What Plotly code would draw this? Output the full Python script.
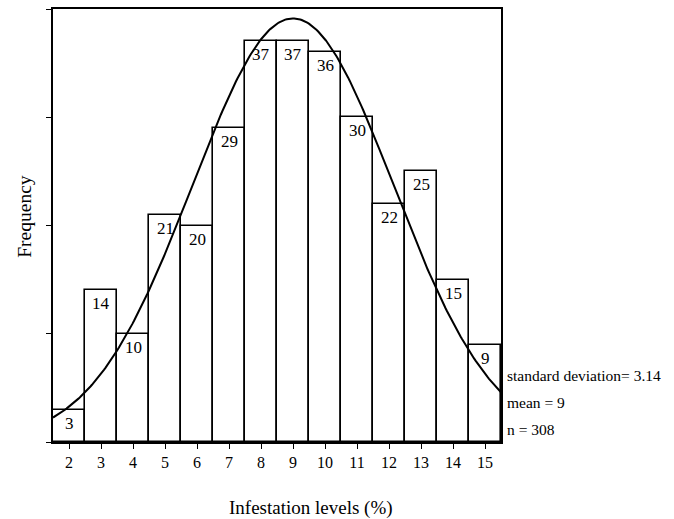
import numpy as np
import plotly.graph_objects as go

levels = [2, 3, 4, 5, 6, 7, 8, 9, 10, 11, 12, 13, 14, 15]
freq = [3, 14, 10, 21, 20, 29, 37, 37, 36, 30, 22, 25, 15, 9]
mean_val = 9
sd_val = 3.14
n_val = 308
stats_lines = ["standard deviation= 3.14", "mean = 9", "n = 308"]

FONT = "Liberation Serif, Times New Roman, serif"

# fitted normal curve from the stated mean / sd / n (bin width 1)
xc = np.linspace(1.5, 15.5, 300)
yc = n_val * 1.0 / (sd_val * np.sqrt(2 * np.pi)) * np.exp(-((xc - mean_val) ** 2) / (2 * sd_val ** 2))

fig = go.Figure()
fig.add_trace(go.Bar(
    x=levels, y=freq, width=1,
    marker=dict(color="white", line=dict(color="black", width=1.6)),
    showlegend=False, hoverinfo="x+y"))
fig.add_trace(go.Scatter(
    x=xc, y=yc, mode="lines", line=dict(color="black", width=2),
    showlegend=False, hoverinfo="skip"))

for xv, yv in zip(levels, freq):
    fig.add_annotation(x=xv, y=yv, text=str(yv), showarrow=False,
                       xref="x", yref="y", yanchor="top", yshift=-2,
                       font=dict(family=FONT, size=17, color="black"))

ys = [0.154, 0.092, 0.028]
for t, yy in zip(stats_lines, ys):
    fig.add_annotation(x=1.008, y=yy, xref="paper", yref="paper", text=t,
                       showarrow=False, xanchor="left", yanchor="middle",
                       font=dict(family=FONT, size=15.5, color="black"))

fig.add_annotation(x=-0.063, y=0.522, xref="paper", yref="paper", text="Frequency",
                   textangle=-90, showarrow=False, xanchor="center", yanchor="middle",
                   font=dict(family=FONT, size=19.5, color="black"))
fig.add_annotation(x=0.576, y=-0.152, xref="paper", yref="paper",
                   text="Infestation levels (%)", showarrow=False,
                   xanchor="center", yanchor="middle",
                   font=dict(family=FONT, size=19, color="black"))

fig.update_layout(
    width=674, height=519,
    margin=dict(l=53, r=173, t=7, b=77),
    paper_bgcolor="white", plot_bgcolor="white",
    bargap=0,
    font=dict(family=FONT, color="black"),
    xaxis=dict(range=[1.5, 15.5], tickmode="array", tickvals=levels,
               ticktext=[str(v) for v in levels], ticks="outside", ticklen=5,
               tickcolor="black", showgrid=False, zeroline=False,
               showline=True, linecolor="black", linewidth=1.6, mirror=True,
               tickfont=dict(family=FONT, size=16, color="black")),
    yaxis=dict(range=[0, 40], tickmode="array", tickvals=[0, 10, 20, 30, 40],
               showticklabels=False, ticks="outside", ticklen=5,
               tickcolor="black", showgrid=False, zeroline=False,
               showline=True, linecolor="black", linewidth=1.6, mirror=True),
)

fig.write_html("out.html")
